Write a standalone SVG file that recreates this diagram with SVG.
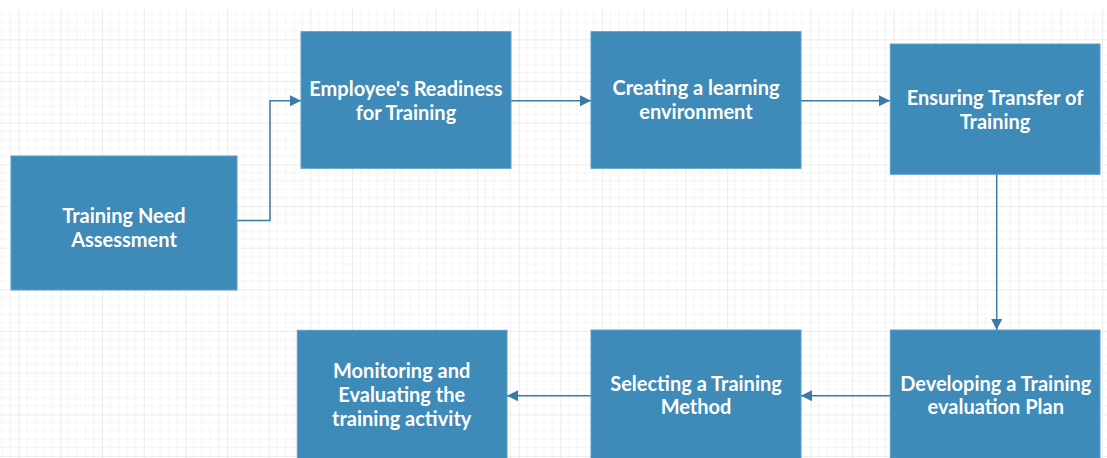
<svg xmlns="http://www.w3.org/2000/svg" width="1107" height="458" viewBox="0 0 1107 458">
<defs>
<pattern id="grid" patternUnits="userSpaceOnUse" x="18.7" y="39.3" width="41.67" height="41.67">
<path d="M8.33 0V41.67M16.67 0V41.67M25 0V41.67M33.33 0V41.67M0 8.33H41.67M0 16.67H41.67M0 25H41.67M0 33.33H41.67" stroke="#f5f5f5" stroke-width="1" fill="none"/>
<path d="M0.5 0V41.67M0 0.5H41.67" stroke="#ececec" stroke-width="1" fill="none"/>
</pattern>
<marker id="arr" viewBox="0 0 10 10" refX="10" refY="5" markerWidth="11" markerHeight="12" markerUnits="userSpaceOnUse" orient="auto">
<path d="M0 0L10 5L0 10Z" fill="#3a7aa3"/>
</marker>
<style>
.box{fill:#3e8ab8;stroke:#5c9ec7;stroke-width:1}
.lbl{font-family:Lato,"Liberation Sans",sans-serif;font-weight:bold;font-size:20px;fill:#ffffff;text-anchor:middle}
.con{fill:none;stroke:#3a7aa3;stroke-width:1.5;marker-end:url(#arr)}
</style>
</defs>
<rect x="0" y="0" width="1107" height="458" fill="#ffffff"/>
<rect x="0" y="9" width="1107" height="449" fill="url(#grid)"/>
<g id="connectors">
<path class="con" d="M237 220.5H270V100.7H301"/>
<path class="con" d="M511 100.7H591"/>
<path class="con" d="M801 100.7H890"/>
<path class="con" d="M996.7 174.3V330"/>
<path class="con" d="M890 395.7H801"/>
<path class="con" d="M591 395.7H507"/>
</g>
<g id="n1">
<rect class="box" x="11" y="156" width="226" height="134"/>
<text class="lbl" x="124" y="222.5">Training Need</text>
<text class="lbl" x="124" y="246.5">Assessment</text>
</g>
<g id="n2">
<rect class="box" x="301" y="31.7" width="210" height="136.6"/>
<text class="lbl" x="406" y="96">Employee's Readiness</text>
<text class="lbl" x="406" y="119.5">for Training</text>
</g>
<g id="n3">
<rect class="box" x="591" y="31.7" width="210" height="136.6"/>
<text class="lbl" x="696" y="95">Creating a learning</text>
<text class="lbl" x="696" y="118.5">environment</text>
</g>
<g id="n4">
<rect class="box" x="890.3" y="44" width="209.7" height="130.3"/>
<text class="lbl" x="995" y="105">Ensuring Transfer of</text>
<text class="lbl" x="995" y="128.7">Training</text>
</g>
<g id="n5">
<rect class="box" x="890.3" y="330" width="209.7" height="140"/>
<text class="lbl" x="995.8" y="390.7">Developing a Training</text>
<text class="lbl" x="995.8" y="414.3">evaluation Plan</text>
</g>
<g id="n6">
<rect class="box" x="591" y="330" width="210" height="140"/>
<text class="lbl" x="696" y="390.7">Selecting a Training</text>
<text class="lbl" x="696" y="414.3">Method</text>
</g>
<g id="n7">
<rect class="box" x="297.3" y="330.3" width="209.7" height="140"/>
<text class="lbl" x="401.7" y="378.3">Monitoring and</text>
<text class="lbl" x="401.7" y="402.3">Evaluating the</text>
<text class="lbl" x="401.7" y="426">training activity</text>
</g>
</svg>
